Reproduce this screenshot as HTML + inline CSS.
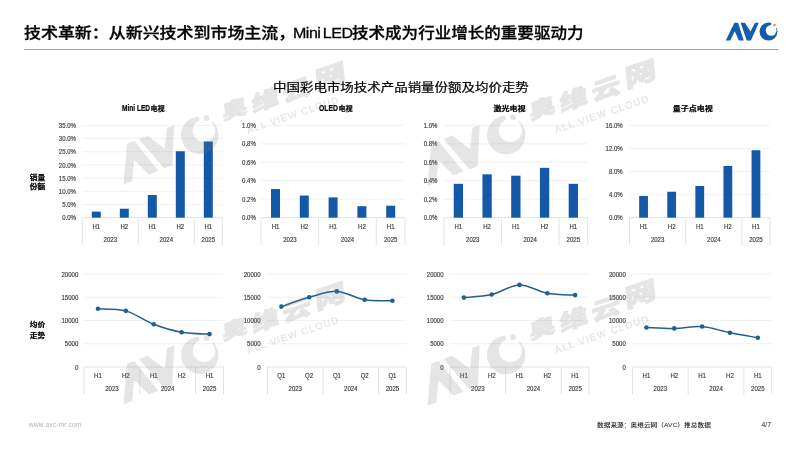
<!DOCTYPE html>
<html lang="zh-CN">
<head>
<meta charset="utf-8">
<title>技术革新：Mini LED技术成为行业增长的重要驱动力</title>
<style>
html,body{margin:0;padding:0;background:#fff;}
body{width:800px;height:450px;position:relative;overflow:hidden;font-family:"Liberation Sans","Noto Sans CJK SC",sans-serif;}
#stage{position:absolute;left:0;top:0;}
.title{position:absolute;left:0;top:19.6px;height:26px;width:800px;font-size:15.3px;color:#000;font-weight:500;-webkit-text-stroke:0.28px #000;margin:0;}
.title span{position:absolute;top:0;height:26px;line-height:26px;white-space:nowrap;transform-origin:0 50%;}
.t1{left:23.9px;transform:scaleX(1.108);}
.t2{left:293.2px;transform:scaleX(1.05);letter-spacing:-0.5px;word-spacing:-1.4px;}
.t3{left:351.8px;transform:scaleX(1.081);}
.sub{position:absolute;left:273.0px;top:77.8px;height:20px;line-height:20px;font-size:12px;color:#000;white-space:nowrap;font-weight:400;transform-origin:0 50%;transform:scaleX(1.122);-webkit-text-stroke:0.22px #000;}
.foot{position:absolute;top:419px;height:12px;line-height:12px;font-size:6.1px;white-space:nowrap;transform-origin:0 50%;transform:scaleX(1.1);}
.url{left:29px;color:#b2b2b2;font-size:6.3px;letter-spacing:0.2px;transform:scaleX(1.04);}
.src{left:597px;color:#222;font-weight:500;}
.pg{left:761.5px;color:#222;font-size:6.8px;transform:scaleX(1);}
</style>
</head>
<body>
<svg id="stage" width="800" height="450" viewBox="0 0 800 450" font-family="'Liberation Sans','Noto Sans CJK SC',sans-serif">
<title>AVC slide charts</title>
<defs><mask id="cmask" maskUnits="userSpaceOnUse" x="30" y="-20" width="26" height="24"><rect x="30" y="-20" width="26" height="24" fill="#fff"/><circle cx="45.4" cy="-10.05" r="5.4" fill="#000"/><circle cx="48.75" cy="-15.35" r="3.5" fill="#000"/></mask></defs>
<line x1="24" y1="49.5" x2="778.5" y2="49.5" stroke="#8ea3ae" stroke-width="1"/>
<g transform="translate(725.75,40.4)"><path d="M0.00,0.00 L8.65,-17.65 L12.35,-17.65 L18.00,0.00 L13.10,0.00 L9.00,-9.05 L4.50,0.00 Z" fill="#165cae"/><path d="M14.85,-17.65 L19.15,-17.65 L24.70,-8.85 L29.25,-17.65 L33.00,-17.65 L25.15,0.00 L21.00,0.00 Z" fill="#165cae"/><circle cx="42.75" cy="-8.80" r="9" fill="#165cae" mask="url(#cmask)"/><circle cx="48.75" cy="-15.35" r="1.4" fill="#c8a468"/></g>
<line x1="82.30" y1="217.70" x2="222.30" y2="217.70" stroke="#dcdcdc" stroke-width="0.8"/>
<text transform="translate(76.00,220.33) scale(0.83,1)" font-size="7.3" text-anchor="end" fill="#404040" stroke="#404040" stroke-width="0.18" font-weight="400" >0.0%</text>
<line x1="82.30" y1="204.51" x2="222.30" y2="204.51" stroke="#ededed" stroke-width="0.8"/>
<text transform="translate(76.00,207.14) scale(0.83,1)" font-size="7.3" text-anchor="end" fill="#404040" stroke="#404040" stroke-width="0.18" font-weight="400" >5.0%</text>
<line x1="82.30" y1="191.33" x2="222.30" y2="191.33" stroke="#ededed" stroke-width="0.8"/>
<text transform="translate(76.00,193.96) scale(0.83,1)" font-size="7.3" text-anchor="end" fill="#404040" stroke="#404040" stroke-width="0.18" font-weight="400" >10.0%</text>
<line x1="82.30" y1="178.14" x2="222.30" y2="178.14" stroke="#ededed" stroke-width="0.8"/>
<text transform="translate(76.00,180.77) scale(0.83,1)" font-size="7.3" text-anchor="end" fill="#404040" stroke="#404040" stroke-width="0.18" font-weight="400" >15.0%</text>
<line x1="82.30" y1="164.96" x2="222.30" y2="164.96" stroke="#ededed" stroke-width="0.8"/>
<text transform="translate(76.00,167.59) scale(0.83,1)" font-size="7.3" text-anchor="end" fill="#404040" stroke="#404040" stroke-width="0.18" font-weight="400" >20.0%</text>
<line x1="82.30" y1="151.77" x2="222.30" y2="151.77" stroke="#ededed" stroke-width="0.8"/>
<text transform="translate(76.00,154.40) scale(0.83,1)" font-size="7.3" text-anchor="end" fill="#404040" stroke="#404040" stroke-width="0.18" font-weight="400" >25.0%</text>
<line x1="82.30" y1="138.59" x2="222.30" y2="138.59" stroke="#ededed" stroke-width="0.8"/>
<text transform="translate(76.00,141.21) scale(0.83,1)" font-size="7.3" text-anchor="end" fill="#404040" stroke="#404040" stroke-width="0.18" font-weight="400" >30.0%</text>
<line x1="82.30" y1="125.40" x2="222.30" y2="125.40" stroke="#ededed" stroke-width="0.8"/>
<text transform="translate(76.00,128.03) scale(0.83,1)" font-size="7.3" text-anchor="end" fill="#404040" stroke="#404040" stroke-width="0.18" font-weight="400" >35.0%</text>
<line x1="82.30" y1="217.70" x2="82.30" y2="245.50" stroke="#dcdcdc" stroke-width="0.8"/>
<line x1="138.30" y1="217.70" x2="138.30" y2="245.50" stroke="#dcdcdc" stroke-width="0.8"/>
<line x1="194.30" y1="217.70" x2="194.30" y2="245.50" stroke="#dcdcdc" stroke-width="0.8"/>
<line x1="222.30" y1="217.70" x2="222.30" y2="245.50" stroke="#dcdcdc" stroke-width="0.8"/>
<text transform="translate(96.30,229.23) scale(0.83,1)" font-size="7.3" text-anchor="middle" fill="#404040" stroke="#404040" stroke-width="0.18" font-weight="400" >H1</text>
<text transform="translate(124.30,229.23) scale(0.83,1)" font-size="7.3" text-anchor="middle" fill="#404040" stroke="#404040" stroke-width="0.18" font-weight="400" >H2</text>
<text transform="translate(152.30,229.23) scale(0.83,1)" font-size="7.3" text-anchor="middle" fill="#404040" stroke="#404040" stroke-width="0.18" font-weight="400" >H1</text>
<text transform="translate(180.30,229.23) scale(0.83,1)" font-size="7.3" text-anchor="middle" fill="#404040" stroke="#404040" stroke-width="0.18" font-weight="400" >H2</text>
<text transform="translate(208.30,229.23) scale(0.83,1)" font-size="7.3" text-anchor="middle" fill="#404040" stroke="#404040" stroke-width="0.18" font-weight="400" >H1</text>
<text transform="translate(110.30,241.83) scale(0.83,1)" font-size="7.3" text-anchor="middle" fill="#404040" stroke="#404040" stroke-width="0.18" font-weight="400" >2023</text>
<text transform="translate(166.30,241.83) scale(0.83,1)" font-size="7.3" text-anchor="middle" fill="#404040" stroke="#404040" stroke-width="0.18" font-weight="400" >2024</text>
<text transform="translate(208.30,241.83) scale(0.83,1)" font-size="7.3" text-anchor="middle" fill="#404040" stroke="#404040" stroke-width="0.18" font-weight="400" >2025</text>
<rect x="91.80" y="211.63" width="9.0" height="6.07" fill="#1459a8"/>
<rect x="119.80" y="208.73" width="9.0" height="8.97" fill="#1459a8"/>
<rect x="147.80" y="195.02" width="9.0" height="22.68" fill="#1459a8"/>
<rect x="175.80" y="151.24" width="9.0" height="66.46" fill="#1459a8"/>
<rect x="203.80" y="141.49" width="9.0" height="76.21" fill="#1459a8"/>
<line x1="261.10" y1="217.70" x2="405.10" y2="217.70" stroke="#dcdcdc" stroke-width="0.8"/>
<text transform="translate(255.80,220.33) scale(0.83,1)" font-size="7.3" text-anchor="end" fill="#404040" stroke="#404040" stroke-width="0.18" font-weight="400" >0.0%</text>
<line x1="261.10" y1="199.24" x2="405.10" y2="199.24" stroke="#ededed" stroke-width="0.8"/>
<text transform="translate(255.80,201.87) scale(0.83,1)" font-size="7.3" text-anchor="end" fill="#404040" stroke="#404040" stroke-width="0.18" font-weight="400" >0.2%</text>
<line x1="261.10" y1="180.78" x2="405.10" y2="180.78" stroke="#ededed" stroke-width="0.8"/>
<text transform="translate(255.80,183.41) scale(0.83,1)" font-size="7.3" text-anchor="end" fill="#404040" stroke="#404040" stroke-width="0.18" font-weight="400" >0.4%</text>
<line x1="261.10" y1="162.32" x2="405.10" y2="162.32" stroke="#ededed" stroke-width="0.8"/>
<text transform="translate(255.80,164.95) scale(0.83,1)" font-size="7.3" text-anchor="end" fill="#404040" stroke="#404040" stroke-width="0.18" font-weight="400" >0.6%</text>
<line x1="261.10" y1="143.86" x2="405.10" y2="143.86" stroke="#ededed" stroke-width="0.8"/>
<text transform="translate(255.80,146.49) scale(0.83,1)" font-size="7.3" text-anchor="end" fill="#404040" stroke="#404040" stroke-width="0.18" font-weight="400" >0.8%</text>
<line x1="261.10" y1="125.40" x2="405.10" y2="125.40" stroke="#ededed" stroke-width="0.8"/>
<text transform="translate(255.80,128.03) scale(0.83,1)" font-size="7.3" text-anchor="end" fill="#404040" stroke="#404040" stroke-width="0.18" font-weight="400" >1.0%</text>
<line x1="261.10" y1="217.70" x2="261.10" y2="245.50" stroke="#dcdcdc" stroke-width="0.8"/>
<line x1="318.70" y1="217.70" x2="318.70" y2="245.50" stroke="#dcdcdc" stroke-width="0.8"/>
<line x1="376.30" y1="217.70" x2="376.30" y2="245.50" stroke="#dcdcdc" stroke-width="0.8"/>
<line x1="405.10" y1="217.70" x2="405.10" y2="245.50" stroke="#dcdcdc" stroke-width="0.8"/>
<text transform="translate(275.50,229.23) scale(0.83,1)" font-size="7.3" text-anchor="middle" fill="#404040" stroke="#404040" stroke-width="0.18" font-weight="400" >H1</text>
<text transform="translate(304.30,229.23) scale(0.83,1)" font-size="7.3" text-anchor="middle" fill="#404040" stroke="#404040" stroke-width="0.18" font-weight="400" >H2</text>
<text transform="translate(333.10,229.23) scale(0.83,1)" font-size="7.3" text-anchor="middle" fill="#404040" stroke="#404040" stroke-width="0.18" font-weight="400" >H1</text>
<text transform="translate(361.90,229.23) scale(0.83,1)" font-size="7.3" text-anchor="middle" fill="#404040" stroke="#404040" stroke-width="0.18" font-weight="400" >H2</text>
<text transform="translate(390.70,229.23) scale(0.83,1)" font-size="7.3" text-anchor="middle" fill="#404040" stroke="#404040" stroke-width="0.18" font-weight="400" >H1</text>
<text transform="translate(289.90,241.83) scale(0.83,1)" font-size="7.3" text-anchor="middle" fill="#404040" stroke="#404040" stroke-width="0.18" font-weight="400" >2023</text>
<text transform="translate(347.50,241.83) scale(0.83,1)" font-size="7.3" text-anchor="middle" fill="#404040" stroke="#404040" stroke-width="0.18" font-weight="400" >2024</text>
<text transform="translate(390.70,241.83) scale(0.83,1)" font-size="7.3" text-anchor="middle" fill="#404040" stroke="#404040" stroke-width="0.18" font-weight="400" >2025</text>
<rect x="271.00" y="189.09" width="9.0" height="28.61" fill="#1459a8"/>
<rect x="299.80" y="195.55" width="9.0" height="22.15" fill="#1459a8"/>
<rect x="328.60" y="197.39" width="9.0" height="20.31" fill="#1459a8"/>
<rect x="357.40" y="206.16" width="9.0" height="11.54" fill="#1459a8"/>
<rect x="386.20" y="205.70" width="9.0" height="12.00" fill="#1459a8"/>
<line x1="444.00" y1="217.70" x2="587.70" y2="217.70" stroke="#dcdcdc" stroke-width="0.8"/>
<text transform="translate(437.50,220.33) scale(0.83,1)" font-size="7.3" text-anchor="end" fill="#404040" stroke="#404040" stroke-width="0.18" font-weight="400" >0.0%</text>
<line x1="444.00" y1="199.24" x2="587.70" y2="199.24" stroke="#ededed" stroke-width="0.8"/>
<text transform="translate(437.50,201.87) scale(0.83,1)" font-size="7.3" text-anchor="end" fill="#404040" stroke="#404040" stroke-width="0.18" font-weight="400" >0.2%</text>
<line x1="444.00" y1="180.78" x2="587.70" y2="180.78" stroke="#ededed" stroke-width="0.8"/>
<text transform="translate(437.50,183.41) scale(0.83,1)" font-size="7.3" text-anchor="end" fill="#404040" stroke="#404040" stroke-width="0.18" font-weight="400" >0.4%</text>
<line x1="444.00" y1="162.32" x2="587.70" y2="162.32" stroke="#ededed" stroke-width="0.8"/>
<text transform="translate(437.50,164.95) scale(0.83,1)" font-size="7.3" text-anchor="end" fill="#404040" stroke="#404040" stroke-width="0.18" font-weight="400" >0.6%</text>
<line x1="444.00" y1="143.86" x2="587.70" y2="143.86" stroke="#ededed" stroke-width="0.8"/>
<text transform="translate(437.50,146.49) scale(0.83,1)" font-size="7.3" text-anchor="end" fill="#404040" stroke="#404040" stroke-width="0.18" font-weight="400" >0.8%</text>
<line x1="444.00" y1="125.40" x2="587.70" y2="125.40" stroke="#ededed" stroke-width="0.8"/>
<text transform="translate(437.50,128.03) scale(0.83,1)" font-size="7.3" text-anchor="end" fill="#404040" stroke="#404040" stroke-width="0.18" font-weight="400" >1.0%</text>
<line x1="444.00" y1="217.70" x2="444.00" y2="245.50" stroke="#dcdcdc" stroke-width="0.8"/>
<line x1="501.48" y1="217.70" x2="501.48" y2="245.50" stroke="#dcdcdc" stroke-width="0.8"/>
<line x1="558.96" y1="217.70" x2="558.96" y2="245.50" stroke="#dcdcdc" stroke-width="0.8"/>
<line x1="587.70" y1="217.70" x2="587.70" y2="245.50" stroke="#dcdcdc" stroke-width="0.8"/>
<text transform="translate(458.37,229.23) scale(0.83,1)" font-size="7.3" text-anchor="middle" fill="#404040" stroke="#404040" stroke-width="0.18" font-weight="400" >H1</text>
<text transform="translate(487.11,229.23) scale(0.83,1)" font-size="7.3" text-anchor="middle" fill="#404040" stroke="#404040" stroke-width="0.18" font-weight="400" >H2</text>
<text transform="translate(515.85,229.23) scale(0.83,1)" font-size="7.3" text-anchor="middle" fill="#404040" stroke="#404040" stroke-width="0.18" font-weight="400" >H1</text>
<text transform="translate(544.59,229.23) scale(0.83,1)" font-size="7.3" text-anchor="middle" fill="#404040" stroke="#404040" stroke-width="0.18" font-weight="400" >H2</text>
<text transform="translate(573.33,229.23) scale(0.83,1)" font-size="7.3" text-anchor="middle" fill="#404040" stroke="#404040" stroke-width="0.18" font-weight="400" >H1</text>
<text transform="translate(472.74,241.83) scale(0.83,1)" font-size="7.3" text-anchor="middle" fill="#404040" stroke="#404040" stroke-width="0.18" font-weight="400" >2023</text>
<text transform="translate(530.22,241.83) scale(0.83,1)" font-size="7.3" text-anchor="middle" fill="#404040" stroke="#404040" stroke-width="0.18" font-weight="400" >2024</text>
<text transform="translate(573.33,241.83) scale(0.83,1)" font-size="7.3" text-anchor="middle" fill="#404040" stroke="#404040" stroke-width="0.18" font-weight="400" >2025</text>
<rect x="453.72" y="183.83" width="9.3" height="33.87" fill="#1459a8"/>
<rect x="482.46" y="174.32" width="9.3" height="43.38" fill="#1459a8"/>
<rect x="511.20" y="175.70" width="9.3" height="42.00" fill="#1459a8"/>
<rect x="539.94" y="167.86" width="9.3" height="49.84" fill="#1459a8"/>
<rect x="568.68" y="183.83" width="9.3" height="33.87" fill="#1459a8"/>
<line x1="629.50" y1="217.70" x2="770.00" y2="217.70" stroke="#dcdcdc" stroke-width="0.8"/>
<text transform="translate(622.70,220.33) scale(0.83,1)" font-size="7.3" text-anchor="end" fill="#404040" stroke="#404040" stroke-width="0.18" font-weight="400" >0.0%</text>
<line x1="629.50" y1="194.62" x2="770.00" y2="194.62" stroke="#ededed" stroke-width="0.8"/>
<text transform="translate(622.70,197.25) scale(0.83,1)" font-size="7.3" text-anchor="end" fill="#404040" stroke="#404040" stroke-width="0.18" font-weight="400" >4.0%</text>
<line x1="629.50" y1="171.55" x2="770.00" y2="171.55" stroke="#ededed" stroke-width="0.8"/>
<text transform="translate(622.70,174.18) scale(0.83,1)" font-size="7.3" text-anchor="end" fill="#404040" stroke="#404040" stroke-width="0.18" font-weight="400" >8.0%</text>
<line x1="629.50" y1="148.47" x2="770.00" y2="148.47" stroke="#ededed" stroke-width="0.8"/>
<text transform="translate(622.70,151.10) scale(0.83,1)" font-size="7.3" text-anchor="end" fill="#404040" stroke="#404040" stroke-width="0.18" font-weight="400" >12.0%</text>
<line x1="629.50" y1="125.40" x2="770.00" y2="125.40" stroke="#ededed" stroke-width="0.8"/>
<text transform="translate(622.70,128.03) scale(0.83,1)" font-size="7.3" text-anchor="end" fill="#404040" stroke="#404040" stroke-width="0.18" font-weight="400" >16.0%</text>
<line x1="629.50" y1="217.70" x2="629.50" y2="245.50" stroke="#dcdcdc" stroke-width="0.8"/>
<line x1="685.70" y1="217.70" x2="685.70" y2="245.50" stroke="#dcdcdc" stroke-width="0.8"/>
<line x1="741.90" y1="217.70" x2="741.90" y2="245.50" stroke="#dcdcdc" stroke-width="0.8"/>
<line x1="770.00" y1="217.70" x2="770.00" y2="245.50" stroke="#dcdcdc" stroke-width="0.8"/>
<text transform="translate(643.55,229.23) scale(0.83,1)" font-size="7.3" text-anchor="middle" fill="#404040" stroke="#404040" stroke-width="0.18" font-weight="400" >H1</text>
<text transform="translate(671.65,229.23) scale(0.83,1)" font-size="7.3" text-anchor="middle" fill="#404040" stroke="#404040" stroke-width="0.18" font-weight="400" >H2</text>
<text transform="translate(699.75,229.23) scale(0.83,1)" font-size="7.3" text-anchor="middle" fill="#404040" stroke="#404040" stroke-width="0.18" font-weight="400" >H1</text>
<text transform="translate(727.85,229.23) scale(0.83,1)" font-size="7.3" text-anchor="middle" fill="#404040" stroke="#404040" stroke-width="0.18" font-weight="400" >H2</text>
<text transform="translate(755.95,229.23) scale(0.83,1)" font-size="7.3" text-anchor="middle" fill="#404040" stroke="#404040" stroke-width="0.18" font-weight="400" >H1</text>
<text transform="translate(657.60,241.83) scale(0.83,1)" font-size="7.3" text-anchor="middle" fill="#404040" stroke="#404040" stroke-width="0.18" font-weight="400" >2023</text>
<text transform="translate(713.80,241.83) scale(0.83,1)" font-size="7.3" text-anchor="middle" fill="#404040" stroke="#404040" stroke-width="0.18" font-weight="400" >2024</text>
<text transform="translate(755.95,241.83) scale(0.83,1)" font-size="7.3" text-anchor="middle" fill="#404040" stroke="#404040" stroke-width="0.18" font-weight="400" >2025</text>
<rect x="639.15" y="196.01" width="8.8" height="21.69" fill="#1459a8"/>
<rect x="667.25" y="191.74" width="8.8" height="25.96" fill="#1459a8"/>
<rect x="695.35" y="185.97" width="8.8" height="31.73" fill="#1459a8"/>
<rect x="723.45" y="165.95" width="8.8" height="51.75" fill="#1459a8"/>
<rect x="751.55" y="150.21" width="8.8" height="67.49" fill="#1459a8"/>
<line x1="84.00" y1="367.00" x2="223.50" y2="367.00" stroke="#dcdcdc" stroke-width="0.8"/>
<text transform="translate(78.30,369.63) scale(0.83,1)" font-size="7.3" text-anchor="end" fill="#404040" stroke="#404040" stroke-width="0.18" font-weight="400" >0</text>
<line x1="84.00" y1="343.75" x2="223.50" y2="343.75" stroke="#ededed" stroke-width="0.8"/>
<text transform="translate(78.30,346.38) scale(0.83,1)" font-size="7.3" text-anchor="end" fill="#404040" stroke="#404040" stroke-width="0.18" font-weight="400" >5000</text>
<line x1="84.00" y1="320.50" x2="223.50" y2="320.50" stroke="#ededed" stroke-width="0.8"/>
<text transform="translate(78.30,323.13) scale(0.83,1)" font-size="7.3" text-anchor="end" fill="#404040" stroke="#404040" stroke-width="0.18" font-weight="400" >10000</text>
<line x1="84.00" y1="297.25" x2="223.50" y2="297.25" stroke="#ededed" stroke-width="0.8"/>
<text transform="translate(78.30,299.88) scale(0.83,1)" font-size="7.3" text-anchor="end" fill="#404040" stroke="#404040" stroke-width="0.18" font-weight="400" >15000</text>
<line x1="84.00" y1="274.00" x2="223.50" y2="274.00" stroke="#ededed" stroke-width="0.8"/>
<text transform="translate(78.30,276.63) scale(0.83,1)" font-size="7.3" text-anchor="end" fill="#404040" stroke="#404040" stroke-width="0.18" font-weight="400" >20000</text>
<line x1="84.00" y1="367.00" x2="84.00" y2="394.50" stroke="#dcdcdc" stroke-width="0.8"/>
<line x1="139.80" y1="367.00" x2="139.80" y2="394.50" stroke="#dcdcdc" stroke-width="0.8"/>
<line x1="195.60" y1="367.00" x2="195.60" y2="394.50" stroke="#dcdcdc" stroke-width="0.8"/>
<line x1="223.50" y1="367.00" x2="223.50" y2="394.50" stroke="#dcdcdc" stroke-width="0.8"/>
<text transform="translate(97.95,377.93) scale(0.83,1)" font-size="7.3" text-anchor="middle" fill="#404040" stroke="#404040" stroke-width="0.18" font-weight="400" >H1</text>
<text transform="translate(125.85,377.93) scale(0.83,1)" font-size="7.3" text-anchor="middle" fill="#404040" stroke="#404040" stroke-width="0.18" font-weight="400" >H2</text>
<text transform="translate(153.75,377.93) scale(0.83,1)" font-size="7.3" text-anchor="middle" fill="#404040" stroke="#404040" stroke-width="0.18" font-weight="400" >H1</text>
<text transform="translate(181.65,377.93) scale(0.83,1)" font-size="7.3" text-anchor="middle" fill="#404040" stroke="#404040" stroke-width="0.18" font-weight="400" >H2</text>
<text transform="translate(209.55,377.93) scale(0.83,1)" font-size="7.3" text-anchor="middle" fill="#404040" stroke="#404040" stroke-width="0.18" font-weight="400" >H1</text>
<text transform="translate(111.90,391.23) scale(0.83,1)" font-size="7.3" text-anchor="middle" fill="#404040" stroke="#404040" stroke-width="0.18" font-weight="400" >2023</text>
<text transform="translate(167.70,391.23) scale(0.83,1)" font-size="7.3" text-anchor="middle" fill="#404040" stroke="#404040" stroke-width="0.18" font-weight="400" >2024</text>
<text transform="translate(209.55,391.23) scale(0.83,1)" font-size="7.3" text-anchor="middle" fill="#404040" stroke="#404040" stroke-width="0.18" font-weight="400" >2025</text>
<path d="M97.95,308.78 C102.60,309.13 116.55,308.29 125.85,310.87 C135.15,313.46 144.45,320.74 153.75,324.31 C163.05,327.89 172.35,330.68 181.65,332.31 C190.95,333.95 204.90,333.82 209.55,334.12" fill="none" stroke="#1f5f92" stroke-width="1.5" stroke-linecap="round"/>
<circle cx="97.95" cy="308.78" r="2.3" fill="#1f5f92"/>
<circle cx="125.85" cy="310.87" r="2.3" fill="#1f5f92"/>
<circle cx="153.75" cy="324.31" r="2.3" fill="#1f5f92"/>
<circle cx="181.65" cy="332.31" r="2.3" fill="#1f5f92"/>
<circle cx="209.55" cy="334.12" r="2.3" fill="#1f5f92"/>
<line x1="267.50" y1="367.00" x2="406.30" y2="367.00" stroke="#dcdcdc" stroke-width="0.8"/>
<text transform="translate(260.50,369.63) scale(0.83,1)" font-size="7.3" text-anchor="end" fill="#404040" stroke="#404040" stroke-width="0.18" font-weight="400" >0</text>
<line x1="267.50" y1="343.75" x2="406.30" y2="343.75" stroke="#ededed" stroke-width="0.8"/>
<text transform="translate(260.50,346.38) scale(0.83,1)" font-size="7.3" text-anchor="end" fill="#404040" stroke="#404040" stroke-width="0.18" font-weight="400" >5000</text>
<line x1="267.50" y1="320.50" x2="406.30" y2="320.50" stroke="#ededed" stroke-width="0.8"/>
<text transform="translate(260.50,323.13) scale(0.83,1)" font-size="7.3" text-anchor="end" fill="#404040" stroke="#404040" stroke-width="0.18" font-weight="400" >10000</text>
<line x1="267.50" y1="297.25" x2="406.30" y2="297.25" stroke="#ededed" stroke-width="0.8"/>
<text transform="translate(260.50,299.88) scale(0.83,1)" font-size="7.3" text-anchor="end" fill="#404040" stroke="#404040" stroke-width="0.18" font-weight="400" >15000</text>
<line x1="267.50" y1="274.00" x2="406.30" y2="274.00" stroke="#ededed" stroke-width="0.8"/>
<text transform="translate(260.50,276.63) scale(0.83,1)" font-size="7.3" text-anchor="end" fill="#404040" stroke="#404040" stroke-width="0.18" font-weight="400" >20000</text>
<line x1="267.50" y1="367.00" x2="267.50" y2="394.50" stroke="#dcdcdc" stroke-width="0.8"/>
<line x1="323.02" y1="367.00" x2="323.02" y2="394.50" stroke="#dcdcdc" stroke-width="0.8"/>
<line x1="378.54" y1="367.00" x2="378.54" y2="394.50" stroke="#dcdcdc" stroke-width="0.8"/>
<line x1="406.30" y1="367.00" x2="406.30" y2="394.50" stroke="#dcdcdc" stroke-width="0.8"/>
<text transform="translate(281.38,377.93) scale(0.83,1)" font-size="7.3" text-anchor="middle" fill="#404040" stroke="#404040" stroke-width="0.18" font-weight="400" >Q1</text>
<text transform="translate(309.14,377.93) scale(0.83,1)" font-size="7.3" text-anchor="middle" fill="#404040" stroke="#404040" stroke-width="0.18" font-weight="400" >Q2</text>
<text transform="translate(336.90,377.93) scale(0.83,1)" font-size="7.3" text-anchor="middle" fill="#404040" stroke="#404040" stroke-width="0.18" font-weight="400" >Q1</text>
<text transform="translate(364.66,377.93) scale(0.83,1)" font-size="7.3" text-anchor="middle" fill="#404040" stroke="#404040" stroke-width="0.18" font-weight="400" >Q2</text>
<text transform="translate(392.42,377.93) scale(0.83,1)" font-size="7.3" text-anchor="middle" fill="#404040" stroke="#404040" stroke-width="0.18" font-weight="400" >Q1</text>
<text transform="translate(295.26,391.23) scale(0.83,1)" font-size="7.3" text-anchor="middle" fill="#404040" stroke="#404040" stroke-width="0.18" font-weight="400" >2023</text>
<text transform="translate(350.78,391.23) scale(0.83,1)" font-size="7.3" text-anchor="middle" fill="#404040" stroke="#404040" stroke-width="0.18" font-weight="400" >2024</text>
<text transform="translate(392.42,391.23) scale(0.83,1)" font-size="7.3" text-anchor="middle" fill="#404040" stroke="#404040" stroke-width="0.18" font-weight="400" >2025</text>
<path d="M281.38,306.60 C286.01,305.05 299.89,299.83 309.14,297.30 C318.39,294.76 327.65,290.97 336.90,291.39 C346.15,291.81 355.41,298.26 364.66,299.81 C373.91,301.36 387.79,300.54 392.42,300.69" fill="none" stroke="#1f5f92" stroke-width="1.5" stroke-linecap="round"/>
<circle cx="281.38" cy="306.60" r="2.3" fill="#1f5f92"/>
<circle cx="309.14" cy="297.30" r="2.3" fill="#1f5f92"/>
<circle cx="336.90" cy="291.39" r="2.3" fill="#1f5f92"/>
<circle cx="364.66" cy="299.81" r="2.3" fill="#1f5f92"/>
<circle cx="392.42" cy="300.69" r="2.3" fill="#1f5f92"/>
<line x1="450.00" y1="367.00" x2="589.00" y2="367.00" stroke="#dcdcdc" stroke-width="0.8"/>
<text transform="translate(443.60,369.63) scale(0.83,1)" font-size="7.3" text-anchor="end" fill="#404040" stroke="#404040" stroke-width="0.18" font-weight="400" >0</text>
<line x1="450.00" y1="343.75" x2="589.00" y2="343.75" stroke="#ededed" stroke-width="0.8"/>
<text transform="translate(443.60,346.38) scale(0.83,1)" font-size="7.3" text-anchor="end" fill="#404040" stroke="#404040" stroke-width="0.18" font-weight="400" >5000</text>
<line x1="450.00" y1="320.50" x2="589.00" y2="320.50" stroke="#ededed" stroke-width="0.8"/>
<text transform="translate(443.60,323.13) scale(0.83,1)" font-size="7.3" text-anchor="end" fill="#404040" stroke="#404040" stroke-width="0.18" font-weight="400" >10000</text>
<line x1="450.00" y1="297.25" x2="589.00" y2="297.25" stroke="#ededed" stroke-width="0.8"/>
<text transform="translate(443.60,299.88) scale(0.83,1)" font-size="7.3" text-anchor="end" fill="#404040" stroke="#404040" stroke-width="0.18" font-weight="400" >15000</text>
<line x1="450.00" y1="274.00" x2="589.00" y2="274.00" stroke="#ededed" stroke-width="0.8"/>
<text transform="translate(443.60,276.63) scale(0.83,1)" font-size="7.3" text-anchor="end" fill="#404040" stroke="#404040" stroke-width="0.18" font-weight="400" >20000</text>
<line x1="450.00" y1="367.00" x2="450.00" y2="394.50" stroke="#dcdcdc" stroke-width="0.8"/>
<line x1="505.60" y1="367.00" x2="505.60" y2="394.50" stroke="#dcdcdc" stroke-width="0.8"/>
<line x1="561.20" y1="367.00" x2="561.20" y2="394.50" stroke="#dcdcdc" stroke-width="0.8"/>
<line x1="589.00" y1="367.00" x2="589.00" y2="394.50" stroke="#dcdcdc" stroke-width="0.8"/>
<text transform="translate(463.90,377.93) scale(0.83,1)" font-size="7.3" text-anchor="middle" fill="#404040" stroke="#404040" stroke-width="0.18" font-weight="400" >H1</text>
<text transform="translate(491.70,377.93) scale(0.83,1)" font-size="7.3" text-anchor="middle" fill="#404040" stroke="#404040" stroke-width="0.18" font-weight="400" >H2</text>
<text transform="translate(519.50,377.93) scale(0.83,1)" font-size="7.3" text-anchor="middle" fill="#404040" stroke="#404040" stroke-width="0.18" font-weight="400" >H1</text>
<text transform="translate(547.30,377.93) scale(0.83,1)" font-size="7.3" text-anchor="middle" fill="#404040" stroke="#404040" stroke-width="0.18" font-weight="400" >H2</text>
<text transform="translate(575.10,377.93) scale(0.83,1)" font-size="7.3" text-anchor="middle" fill="#404040" stroke="#404040" stroke-width="0.18" font-weight="400" >H1</text>
<text transform="translate(477.80,391.23) scale(0.83,1)" font-size="7.3" text-anchor="middle" fill="#404040" stroke="#404040" stroke-width="0.18" font-weight="400" >2023</text>
<text transform="translate(533.40,391.23) scale(0.83,1)" font-size="7.3" text-anchor="middle" fill="#404040" stroke="#404040" stroke-width="0.18" font-weight="400" >2024</text>
<text transform="translate(575.10,391.23) scale(0.83,1)" font-size="7.3" text-anchor="middle" fill="#404040" stroke="#404040" stroke-width="0.18" font-weight="400" >2025</text>
<path d="M463.90,297.60 C468.53,297.08 482.43,296.63 491.70,294.51 C500.97,292.39 510.23,285.08 519.50,284.88 C528.77,284.68 538.03,291.59 547.30,293.30 C556.57,295.00 570.47,294.81 575.10,295.11" fill="none" stroke="#1f5f92" stroke-width="1.5" stroke-linecap="round"/>
<circle cx="463.90" cy="297.60" r="2.3" fill="#1f5f92"/>
<circle cx="491.70" cy="294.51" r="2.3" fill="#1f5f92"/>
<circle cx="519.50" cy="284.88" r="2.3" fill="#1f5f92"/>
<circle cx="547.30" cy="293.30" r="2.3" fill="#1f5f92"/>
<circle cx="575.10" cy="295.11" r="2.3" fill="#1f5f92"/>
<line x1="632.50" y1="367.00" x2="771.70" y2="367.00" stroke="#dcdcdc" stroke-width="0.8"/>
<text transform="translate(625.80,369.63) scale(0.83,1)" font-size="7.3" text-anchor="end" fill="#404040" stroke="#404040" stroke-width="0.18" font-weight="400" >0</text>
<line x1="632.50" y1="343.75" x2="771.70" y2="343.75" stroke="#ededed" stroke-width="0.8"/>
<text transform="translate(625.80,346.38) scale(0.83,1)" font-size="7.3" text-anchor="end" fill="#404040" stroke="#404040" stroke-width="0.18" font-weight="400" >5000</text>
<line x1="632.50" y1="320.50" x2="771.70" y2="320.50" stroke="#ededed" stroke-width="0.8"/>
<text transform="translate(625.80,323.13) scale(0.83,1)" font-size="7.3" text-anchor="end" fill="#404040" stroke="#404040" stroke-width="0.18" font-weight="400" >10000</text>
<line x1="632.50" y1="297.25" x2="771.70" y2="297.25" stroke="#ededed" stroke-width="0.8"/>
<text transform="translate(625.80,299.88) scale(0.83,1)" font-size="7.3" text-anchor="end" fill="#404040" stroke="#404040" stroke-width="0.18" font-weight="400" >15000</text>
<line x1="632.50" y1="274.00" x2="771.70" y2="274.00" stroke="#ededed" stroke-width="0.8"/>
<text transform="translate(625.80,276.63) scale(0.83,1)" font-size="7.3" text-anchor="end" fill="#404040" stroke="#404040" stroke-width="0.18" font-weight="400" >20000</text>
<line x1="632.50" y1="367.00" x2="632.50" y2="394.50" stroke="#dcdcdc" stroke-width="0.8"/>
<line x1="688.18" y1="367.00" x2="688.18" y2="394.50" stroke="#dcdcdc" stroke-width="0.8"/>
<line x1="743.86" y1="367.00" x2="743.86" y2="394.50" stroke="#dcdcdc" stroke-width="0.8"/>
<line x1="771.70" y1="367.00" x2="771.70" y2="394.50" stroke="#dcdcdc" stroke-width="0.8"/>
<text transform="translate(646.42,377.93) scale(0.83,1)" font-size="7.3" text-anchor="middle" fill="#404040" stroke="#404040" stroke-width="0.18" font-weight="400" >H1</text>
<text transform="translate(674.26,377.93) scale(0.83,1)" font-size="7.3" text-anchor="middle" fill="#404040" stroke="#404040" stroke-width="0.18" font-weight="400" >H2</text>
<text transform="translate(702.10,377.93) scale(0.83,1)" font-size="7.3" text-anchor="middle" fill="#404040" stroke="#404040" stroke-width="0.18" font-weight="400" >H1</text>
<text transform="translate(729.94,377.93) scale(0.83,1)" font-size="7.3" text-anchor="middle" fill="#404040" stroke="#404040" stroke-width="0.18" font-weight="400" >H2</text>
<text transform="translate(757.78,377.93) scale(0.83,1)" font-size="7.3" text-anchor="middle" fill="#404040" stroke="#404040" stroke-width="0.18" font-weight="400" >H1</text>
<text transform="translate(660.34,391.23) scale(0.83,1)" font-size="7.3" text-anchor="middle" fill="#404040" stroke="#404040" stroke-width="0.18" font-weight="400" >2023</text>
<text transform="translate(716.02,391.23) scale(0.83,1)" font-size="7.3" text-anchor="middle" fill="#404040" stroke="#404040" stroke-width="0.18" font-weight="400" >2024</text>
<text transform="translate(757.78,391.23) scale(0.83,1)" font-size="7.3" text-anchor="middle" fill="#404040" stroke="#404040" stroke-width="0.18" font-weight="400" >2025</text>
<path d="M646.42,327.48 C651.06,327.63 664.98,328.56 674.26,328.40 C683.54,328.25 692.82,325.82 702.10,326.55 C711.38,327.27 720.66,330.87 729.94,332.73 C739.22,334.59 753.14,336.88 757.78,337.70" fill="none" stroke="#1f5f92" stroke-width="1.5" stroke-linecap="round"/>
<circle cx="646.42" cy="327.48" r="2.3" fill="#1f5f92"/>
<circle cx="674.26" cy="328.40" r="2.3" fill="#1f5f92"/>
<circle cx="702.10" cy="326.55" r="2.3" fill="#1f5f92"/>
<circle cx="729.94" cy="332.73" r="2.3" fill="#1f5f92"/>
<circle cx="757.78" cy="337.70" r="2.3" fill="#1f5f92"/>
<text x="122.00" y="111.25" font-size="8.2" font-weight="700" fill="#000" stroke="#000" stroke-width="0.2" textLength="28.0" lengthAdjust="spacingAndGlyphs">Mini LED</text>
<text x="150.50" y="110.85" font-size="7" font-weight="700" fill="#000" stroke="#000" stroke-width="0.22" textLength="14.2" lengthAdjust="spacingAndGlyphs">电视</text>
<text x="319.00" y="111.25" font-size="8.2" font-weight="700" fill="#000" stroke="#000" stroke-width="0.2" textLength="19.0" lengthAdjust="spacingAndGlyphs">OLED</text>
<text x="338.50" y="110.85" font-size="7" font-weight="700" fill="#000" stroke="#000" stroke-width="0.22" textLength="14.2" lengthAdjust="spacingAndGlyphs">电视</text>
<text x="493.40" y="110.85" font-size="7" font-weight="700" fill="#000" stroke="#000" stroke-width="0.22" textLength="32.2" lengthAdjust="spacingAndGlyphs">激光电视</text>
<text x="672.70" y="110.85" font-size="7" font-weight="700" fill="#000" stroke="#000" stroke-width="0.22" textLength="40.0" lengthAdjust="spacingAndGlyphs">量子点电视</text>
<text x="29.8" y="179.85" font-size="7" font-weight="700" fill="#000" stroke="#000" stroke-width="0.22" textLength="15.4" lengthAdjust="spacingAndGlyphs">销量</text>
<text x="29.8" y="189.35" font-size="7" font-weight="700" fill="#000" stroke="#000" stroke-width="0.22" textLength="15.4" lengthAdjust="spacingAndGlyphs">份额</text>
<text x="29.8" y="327.45" font-size="7" font-weight="700" fill="#000" stroke="#000" stroke-width="0.22" textLength="15.4" lengthAdjust="spacingAndGlyphs">均价</text>
<text x="29.8" y="337.95" font-size="7" font-weight="700" fill="#000" stroke="#000" stroke-width="0.22" textLength="15.4" lengthAdjust="spacingAndGlyphs">走势</text>
<g transform="translate(121.50,181.00) scale(1.0)" fill="#808080" opacity="0.2">
<g transform="translate(2.0,3.4) rotate(-21.2) scale(2.08)"><path d="M0.00,0.00 L8.65,-17.65 L12.35,-17.65 L18.00,0.00 L13.10,0.00 L9.00,-9.05 L4.50,0.00 Z" fill="#808080"/><path d="M14.85,-17.65 L19.15,-17.65 L24.70,-8.85 L29.25,-17.65 L33.00,-17.65 L25.15,0.00 L21.00,0.00 Z" fill="#808080"/><circle cx="42.75" cy="-8.80" r="9" fill="#808080" mask="url(#cmask)"/><circle cx="48.75" cy="-15.35" r="1.4" fill="#808080"/></g>
<text transform="translate(113.20,-72.30) rotate(-19) skewX(-13) scale(1.36,1)" y="7.33" text-anchor="middle" font-size="19.3" font-weight="900" stroke="#808080" stroke-width="0.9" stroke-linejoin="round" font-family="'Liberation Sans','Noto Sans CJK SC',sans-serif">奥</text>
<text transform="translate(143.70,-81.00) rotate(-19) skewX(-13) scale(1.36,1)" y="7.83" text-anchor="middle" font-size="20.6" font-weight="900" stroke="#808080" stroke-width="0.9" stroke-linejoin="round" font-family="'Liberation Sans','Noto Sans CJK SC',sans-serif">维</text>
<text transform="translate(175.20,-91.50) rotate(-19) skewX(-13) scale(1.36,1)" y="8.28" text-anchor="middle" font-size="21.8" font-weight="900" stroke="#808080" stroke-width="0.9" stroke-linejoin="round" font-family="'Liberation Sans','Noto Sans CJK SC',sans-serif">云</text>
<text transform="translate(208.70,-105.50) rotate(-19) skewX(-13) scale(1.36,1)" y="8.97" text-anchor="middle" font-size="23.6" font-weight="900" stroke="#808080" stroke-width="0.9" stroke-linejoin="round" font-family="'Liberation Sans','Noto Sans CJK SC',sans-serif">网</text>
<text transform="translate(126.75,-47.6) rotate(-18.7)" font-size="9.5" font-weight="400" stroke="#808080" stroke-width="0.35" letter-spacing="1.25" font-family="'Liberation Sans','Noto Sans CJK SC',sans-serif">ALL VIEW CLOUD</text>
</g>
<g transform="translate(425.50,182.20) scale(1.03)" fill="#808080" opacity="0.2">
<g transform="translate(2.0,3.4) rotate(-21.2) scale(2.08)"><path d="M0.00,0.00 L8.65,-17.65 L12.35,-17.65 L18.00,0.00 L13.10,0.00 L9.00,-9.05 L4.50,0.00 Z" fill="#808080"/><path d="M14.85,-17.65 L19.15,-17.65 L24.70,-8.85 L29.25,-17.65 L33.00,-17.65 L25.15,0.00 L21.00,0.00 Z" fill="#808080"/><circle cx="42.75" cy="-8.80" r="9" fill="#808080" mask="url(#cmask)"/><circle cx="48.75" cy="-15.35" r="1.4" fill="#808080"/></g>
<text transform="translate(113.20,-72.30) rotate(-19) skewX(-13) scale(1.36,1)" y="7.33" text-anchor="middle" font-size="19.3" font-weight="900" stroke="#808080" stroke-width="0.9" stroke-linejoin="round" font-family="'Liberation Sans','Noto Sans CJK SC',sans-serif">奥</text>
<text transform="translate(143.70,-81.00) rotate(-19) skewX(-13) scale(1.36,1)" y="7.83" text-anchor="middle" font-size="20.6" font-weight="900" stroke="#808080" stroke-width="0.9" stroke-linejoin="round" font-family="'Liberation Sans','Noto Sans CJK SC',sans-serif">维</text>
<text transform="translate(175.20,-91.50) rotate(-19) skewX(-13) scale(1.36,1)" y="8.28" text-anchor="middle" font-size="21.8" font-weight="900" stroke="#808080" stroke-width="0.9" stroke-linejoin="round" font-family="'Liberation Sans','Noto Sans CJK SC',sans-serif">云</text>
<text transform="translate(208.70,-105.50) rotate(-19) skewX(-13) scale(1.36,1)" y="8.97" text-anchor="middle" font-size="23.6" font-weight="900" stroke="#808080" stroke-width="0.9" stroke-linejoin="round" font-family="'Liberation Sans','Noto Sans CJK SC',sans-serif">网</text>
<text transform="translate(126.75,-47.6) rotate(-18.7)" font-size="9.5" font-weight="400" stroke="#808080" stroke-width="0.35" letter-spacing="1.25" font-family="'Liberation Sans','Noto Sans CJK SC',sans-serif">ALL VIEW CLOUD</text>
</g>
<g transform="translate(121.50,401.00) scale(1.0)" fill="#808080" opacity="0.2">
<g transform="translate(2.0,3.4) rotate(-21.2) scale(2.08)"><path d="M0.00,0.00 L8.65,-17.65 L12.35,-17.65 L18.00,0.00 L13.10,0.00 L9.00,-9.05 L4.50,0.00 Z" fill="#808080"/><path d="M14.85,-17.65 L19.15,-17.65 L24.70,-8.85 L29.25,-17.65 L33.00,-17.65 L25.15,0.00 L21.00,0.00 Z" fill="#808080"/><circle cx="42.75" cy="-8.80" r="9" fill="#808080" mask="url(#cmask)"/><circle cx="48.75" cy="-15.35" r="1.4" fill="#808080"/></g>
<text transform="translate(113.20,-72.30) rotate(-19) skewX(-13) scale(1.36,1)" y="7.33" text-anchor="middle" font-size="19.3" font-weight="900" stroke="#808080" stroke-width="0.9" stroke-linejoin="round" font-family="'Liberation Sans','Noto Sans CJK SC',sans-serif">奥</text>
<text transform="translate(143.70,-81.00) rotate(-19) skewX(-13) scale(1.36,1)" y="7.83" text-anchor="middle" font-size="20.6" font-weight="900" stroke="#808080" stroke-width="0.9" stroke-linejoin="round" font-family="'Liberation Sans','Noto Sans CJK SC',sans-serif">维</text>
<text transform="translate(175.20,-91.50) rotate(-19) skewX(-13) scale(1.36,1)" y="8.28" text-anchor="middle" font-size="21.8" font-weight="900" stroke="#808080" stroke-width="0.9" stroke-linejoin="round" font-family="'Liberation Sans','Noto Sans CJK SC',sans-serif">云</text>
<text transform="translate(208.70,-105.50) rotate(-19) skewX(-13) scale(1.36,1)" y="8.97" text-anchor="middle" font-size="23.6" font-weight="900" stroke="#808080" stroke-width="0.9" stroke-linejoin="round" font-family="'Liberation Sans','Noto Sans CJK SC',sans-serif">网</text>
<text transform="translate(126.75,-47.6) rotate(-18.7)" font-size="9.5" font-weight="400" stroke="#808080" stroke-width="0.35" letter-spacing="1.25" font-family="'Liberation Sans','Noto Sans CJK SC',sans-serif">ALL VIEW CLOUD</text>
</g>
<g transform="translate(425.50,402.20) scale(1.03)" fill="#808080" opacity="0.2">
<g transform="translate(2.0,3.4) rotate(-21.2) scale(2.08)"><path d="M0.00,0.00 L8.65,-17.65 L12.35,-17.65 L18.00,0.00 L13.10,0.00 L9.00,-9.05 L4.50,0.00 Z" fill="#808080"/><path d="M14.85,-17.65 L19.15,-17.65 L24.70,-8.85 L29.25,-17.65 L33.00,-17.65 L25.15,0.00 L21.00,0.00 Z" fill="#808080"/><circle cx="42.75" cy="-8.80" r="9" fill="#808080" mask="url(#cmask)"/><circle cx="48.75" cy="-15.35" r="1.4" fill="#808080"/></g>
<text transform="translate(113.20,-72.30) rotate(-19) skewX(-13) scale(1.36,1)" y="7.33" text-anchor="middle" font-size="19.3" font-weight="900" stroke="#808080" stroke-width="0.9" stroke-linejoin="round" font-family="'Liberation Sans','Noto Sans CJK SC',sans-serif">奥</text>
<text transform="translate(143.70,-81.00) rotate(-19) skewX(-13) scale(1.36,1)" y="7.83" text-anchor="middle" font-size="20.6" font-weight="900" stroke="#808080" stroke-width="0.9" stroke-linejoin="round" font-family="'Liberation Sans','Noto Sans CJK SC',sans-serif">维</text>
<text transform="translate(175.20,-91.50) rotate(-19) skewX(-13) scale(1.36,1)" y="8.28" text-anchor="middle" font-size="21.8" font-weight="900" stroke="#808080" stroke-width="0.9" stroke-linejoin="round" font-family="'Liberation Sans','Noto Sans CJK SC',sans-serif">云</text>
<text transform="translate(208.70,-105.50) rotate(-19) skewX(-13) scale(1.36,1)" y="8.97" text-anchor="middle" font-size="23.6" font-weight="900" stroke="#808080" stroke-width="0.9" stroke-linejoin="round" font-family="'Liberation Sans','Noto Sans CJK SC',sans-serif">网</text>
<text transform="translate(126.75,-47.6) rotate(-18.7)" font-size="9.5" font-weight="400" stroke="#808080" stroke-width="0.35" letter-spacing="1.25" font-family="'Liberation Sans','Noto Sans CJK SC',sans-serif">ALL VIEW CLOUD</text>
</g>
</svg>
<h1 class="title"><span class="t1">技术革新：从新兴技术到市场主流，</span><span class="t2">Mini LED</span><span class="t3">技术成为行业增长的重要驱动力</span></h1>
<div class="sub">中国彩电市场技术产品销量份额及均价走势</div>
<div class="foot url">www.avc-mr.com</div>
<div class="foot src">数据来源：奥维云网（AVC）推总数据</div>
<div class="foot pg">4/7</div>
</body>
</html>
